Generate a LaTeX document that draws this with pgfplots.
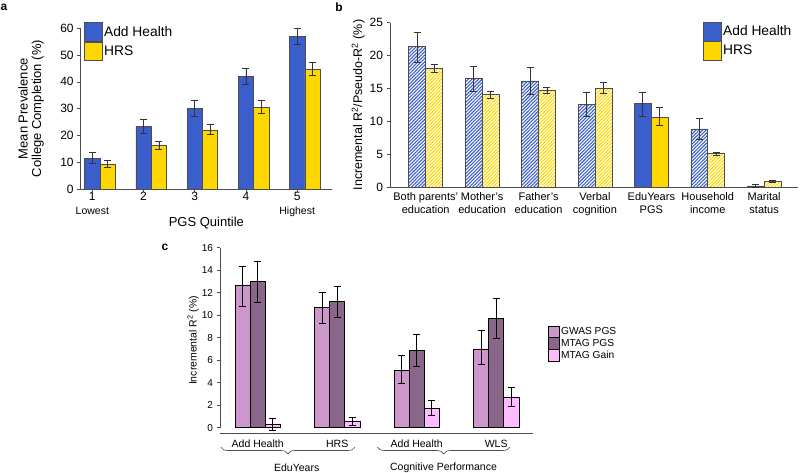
\documentclass[border=0pt]{standalone}
\usepackage{fontspec}
\setmainfont{Liberation Sans}
\usepackage{pgfplots}
\pgfplotsset{compat=1.18}
\usetikzlibrary{patterns.meta,decorations.pathreplacing}

\definecolor{ahblue}{HTML}{3A5FCD}
\definecolor{hrsgold}{HTML}{FFD700}
\definecolor{gwas}{HTML}{CD96CD}
\definecolor{mtag}{HTML}{8B668B}
\definecolor{gain}{HTML}{FFBBFF}
\definecolor{axgray}{HTML}{4D4D4D}
\definecolor{errgray}{HTML}{333333}

\pgfplotsset{
  rplot/.style={
    scale only axis, anchor=south west, clip=false,
    axis x line=bottom, axis y line=left,
    axis line style={-, axgray, line width=0.7pt},
    tick style={axgray, line width=0.7pt},
    tick align=outside, major tick length=3.5pt,
    /pgf/number format/assume math mode=true,
    legend cell align=left,
  },
  bars/.style={ybar, bar shift=0pt, bar width=#1, draw=axgray, line width=0.6pt},
  ebars/.style={error bars/y dir=both, error bars/y explicit,
    error bars/error bar style={line width=0.8pt, #1},
    error bars/error mark options={rotate=90, line width=0.8pt, #1, mark size=3.5pt}},
  bigbox/.style={legend image code/.code={\draw[##1] (0pt,-9.3pt) rectangle (18pt,9.3pt);}},
  smallbox/.style={legend image code/.code={\draw[##1] (0pt,-5.65pt) rectangle (10.6pt,5.65pt);}},
  hatch/.style={pattern={Lines[angle=45,distance=2.4pt,line width=1.1pt]}, pattern color=#1},
}

\begin{document}
\begin{tikzpicture}
\useasboundingbox (0pt,0pt) rectangle (800pt,473pt);

% ---------- panel a ----------
\begin{axis}[rplot, at={(80.7pt,284pt)}, width=251.3pt, height=160.7pt,
  xmin=0.773, xmax=5.68, ymin=0, ymax=60,
  ytick={0,10,...,60}, xtick={1,...,5},
  xticklabels={{1\\{\fontsize{10.5}{12}\selectfont Lowest}},2,3,4,{5\\{\fontsize{10.5}{12}\selectfont Highest}}},
  xticklabel style={align=center, font=\fontsize{12}{14}\selectfont, yshift=4pt},
  yticklabel style={font=\fontsize{12}{14}\selectfont},
  xlabel={PGS Quintile}, ylabel={Mean Prevalence\\College Completion (\%)},
  label style={font=\fontsize{13}{13.5}\selectfont},
  ylabel style={at={(axis description cs:-0.198,0.5)}, anchor=center, align=center},
  xlabel style={at={(axis description cs:0.5,0)}, anchor=center, yshift=-33.7pt},
  legend style={at={(axis cs:0.824,62.25)}, anchor=north west, draw=none, fill=none,
    inner sep=0pt, row sep=0pt, nodes={inner sep=0pt},
    font=\fontsize{13.8}{15}\selectfont,
    /tikz/every odd column/.append style={column sep=2pt}},
]
\addplot[bars=0.3, fill=ahblue, bigbox, ebars=errgray] coordinates {
  (1,11.5) += (0,2.0) -= (0,1.8)
  (2,23.4) += (0,2.6) -= (0,2.5)
  (3,30.0) += (0,2.9) -= (0,3.0)
  (4,42.1) += (0,3.1) -= (0,3.1)
  (5,57.0) += (0,3.1) -= (0,3.0)
};
\addlegendentry{Add Health}
\addplot[bars=0.3, fill=hrsgold, bigbox, ebars=errgray] coordinates {
  (1.3,9.2) += (0,1.4) -= (0,1.3)
  (2.3,16.2) += (0,1.7) -= (0,1.6)
  (3.3,22.1) += (0,2.0) -= (0,1.9)
  (4.3,30.6) += (0,2.3) -= (0,2.3)
  (5.3,44.7) += (0,2.5) -= (0,2.4)
};
\addlegendentry{HRS}
\end{axis}

% ---------- panel b ----------
\begin{axis}[rplot, at={(390pt,285.7pt)}, width=408pt, height=164.6pt,
  xmin=0.367, xmax=7.6, ymin=0, ymax=25,
  ytick={0,5,...,25}, xtick={1,...,7},
  xtick style={draw=none},
  xticklabels={{Both parents'\\education},{Mother's\\education},{Father's\\education},
    {Verbal\\cognition},{EduYears\\PGS},{Household\\income},{Marital\\status}},
  xticklabel style={align=center, font=\fontsize{11}{13}\selectfont, yshift=2pt},
  yticklabel style={font=\fontsize{12}{14}\selectfont},
  ylabel={Incremental R\textsuperscript{2}/Pseudo-R\textsuperscript{2} (\%)},
  label style={font=\fontsize{12.5}{14}\selectfont},
  ylabel style={at={(axis description cs:-0.078,0.5)}, anchor=center},
  legend style={at={(axis cs:5.904,25.15)}, anchor=north west, draw=none, fill=none,
    inner sep=0pt, row sep=0pt, nodes={inner sep=0pt},
    font=\fontsize{13.8}{15}\selectfont,
    /tikz/every odd column/.append style={column sep=2pt}},
]
\addplot[bars=0.3, fill=ahblue, bigbox, ebars=errgray] coordinates {
  (4.85,12.7) += (0,1.7) -= (0,1.9)
};
\addlegendentry{Add Health}
\addplot[bars=0.3, fill=hrsgold, bigbox, ebars=errgray] coordinates {
  (5.15,10.6) += (0,1.5) -= (0,1.2)
};
\addlegendentry{HRS}
\addplot[bars=0.3, hatch=ahblue, ebars=errgray, forget plot] coordinates {
  (0.85,21.4) += (0,2.2) -= (0,2.4)
  (1.85,16.5) += (0,1.8) -= (0,1.9)
  (2.85,16.15) += (0,2.0) -= (0,2.1)
  (3.85,12.65) += (0,1.75) -= (0,1.85)
  (5.85,8.86) += (0,1.6) -= (0,1.65)
  (6.85,0.2) += (0,0.25) -= (0,0.2)
};
\addplot[bars=0.3, hatch=hrsgold, ebars=errgray, forget plot] coordinates {
  (1.15,18.0) += (0,0.6) -= (0,0.55)
  (2.15,14.07) += (0,0.5) -= (0,0.55)
  (3.15,14.8) += (0,0.4) -= (0,0.5)
  (4.15,15.1) += (0,0.85) -= (0,0.85)
  (6.15,5.1) += (0,0.25) -= (0,0.25)
  (7.15,0.85) += (0,0.15) -= (0,0.15)
};
\end{axis}

% ---------- panel c ----------
\begin{axis}[rplot, at={(220pt,40pt)}, width=312.7pt, height=185.3pt,
  xmin=0.526, xmax=4.459, ymin=-0.47, ymax=16,
  y axis line style={shorten <=5.3pt},
  ytick={0,2,...,16}, xtick={1,...,4},
  xtick style={draw=none},
  xticklabels={Add Health,HRS,Add Health,WLS},
  xticklabel style={font=\fontsize{10.5}{12}\selectfont},
  yticklabel style={font=\fontsize{10}{12}\selectfont},
  ylabel={Incremental R\textsuperscript{2} (\%)},
  label style={font=\fontsize{10.5}{12}\selectfont},
  ylabel style={at={(axis description cs:-0.086,0.5)}, anchor=center},
  legend style={at={(axis cs:4.648,9.1)}, anchor=north west, draw=none, fill=none,
    inner sep=0pt, row sep=0pt, nodes={inner sep=0pt},
    font=\fontsize{10.2}{12}\selectfont,
    /tikz/every odd column/.append style={column sep=2pt}},
]
\addplot[bars=0.19, fill=gwas, draw=black, smallbox, ebars=black] coordinates {
  (0.81,12.68) += (0,1.62) -= (0,1.88)
  (1.81,10.67) += (0,1.39) -= (0,1.37)
  (2.81,5.1) += (0,1.33) -= (0,1.16)
  (3.81,7.0) += (0,1.68) -= (0,1.34)
};
\addlegendentry{GWAS PGS}
\addplot[bars=0.19, fill=mtag, draw=black, smallbox, ebars=black] coordinates {
  (1,12.98) += (0,1.78) -= (0,1.81)
  (2,11.2) += (0,1.4) -= (0,1.42)
  (3,6.88) += (0,1.45) -= (0,1.4)
  (4,9.69) += (0,1.81) -= (0,1.78)
};
\addlegendentry{MTAG PGS}
\addplot[bars=0.19, fill=gain, draw=black, smallbox, ebars=black] coordinates {
  (1.19,0.33) += (0,0.5) -= (0,0.56)
  (2.19,0.53) += (0,0.36) -= (0,0.29)
  (3.19,1.75) += (0,0.65) -= (0,0.65)
  (4.19,2.7) += (0,0.89) -= (0,0.83)
};
\addlegendentry{MTAG Gain}
\end{axis}

% group braces and panel letters
\draw[axgray, line width=0.6pt, decorate, decoration={brace, mirror, amplitude=7pt}]
  (220.7pt,26pt) -- (355pt,26pt);
\draw[axgray, line width=0.6pt, decorate, decoration={brace, mirror, amplitude=7pt}]
  (377.3pt,26pt) -- (510pt,26pt);
\node[font=\fontsize{10.5}{12}\selectfont] at (296.7pt,5.3pt) {EduYears};
\node[font=\fontsize{10.5}{12}\selectfont] at (443.5pt,5.3pt) {Cognitive Performance};
\node[font=\bfseries\fontsize{12}{12}\selectfont] at (4pt,466pt) {a};
\node[font=\bfseries\fontsize{12}{12}\selectfont] at (339pt,466pt) {b};
\node[font=\bfseries\fontsize{12}{12}\selectfont] at (165pt,226pt) {c};
\end{tikzpicture}
\end{document}
